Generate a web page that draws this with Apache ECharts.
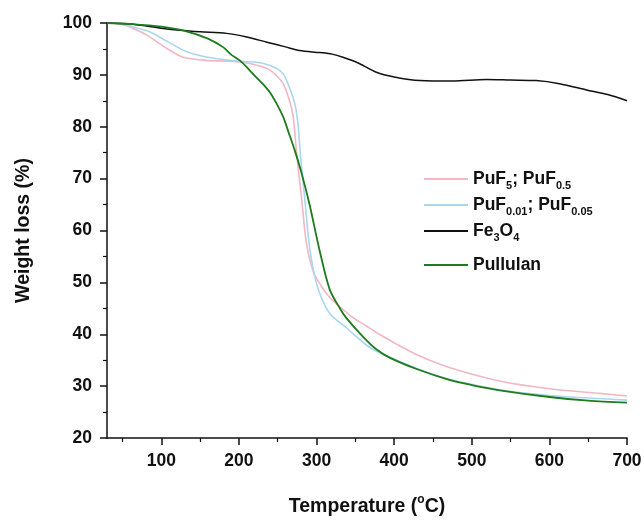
<!DOCTYPE html>
<html>
<head>
<meta charset="utf-8">
<script src="https://cdn.jsdelivr.net/npm/echarts@6/dist/echarts.min.js"></script>
<style>html,body{margin:0;padding:0;background:#fff}#c{width:644px;height:520px}</style>
</head>
<body>
<div id="c"></div>
<script>
// ---- data ----
var seriesNames = ['PuF5; PuF0.5', 'PuF0.01; PuF0.05', 'Fe3O4', 'Pullulan'];

var pinkT = [30, 50, 64, 80, 107, 128, 158, 193, 214, 231, 240, 250, 257, 265, 270, 274, 281, 287, 296, 306, 317, 330, 347, 364, 381, 403, 430, 471, 536, 600, 665, 700];
var pinkW = [100, 99.7, 98.9, 97.8, 95.1, 93.4, 92.8, 92.6, 92.2, 91.5, 90.9, 89.6, 88.3, 85.1, 81.9, 75.4, 65.8, 57.5, 52, 49.3, 47.1, 45.3, 43.2, 41.6, 40.0, 38.1, 36.0, 33.6, 31.0, 29.5, 28.6, 28.1];

var blueT = [30, 50, 64, 85, 107, 132, 160, 201, 225, 240, 250, 257, 265, 272, 276, 279, 285, 290, 296, 304, 317, 338, 368, 394, 429, 471, 536, 600, 665, 700];
var blueW = [100, 99.8, 99.2, 98.3, 96.5, 94.5, 93.4, 92.6, 92.4, 91.8, 91.1, 90.2, 87.6, 84.4, 80.6, 75.0, 65.8, 58, 52.3, 47.9, 44.0, 41.3, 37.5, 35.6, 33.4, 31.3, 29.3, 28.2, 27.6, 27.3];

var blackT = [30, 60, 100, 124, 150, 184, 210, 236, 260, 278, 304, 320, 334, 355, 377, 400, 433, 475, 519, 550, 583, 613, 648, 675, 700];
var blackW = [100, 99.8, 99.0, 98.6, 98.3, 98.0, 97.3, 96.3, 95.4, 94.7, 94.3, 94.0, 93.4, 92.2, 90.5, 89.6, 88.9, 88.8, 89.1, 89.0, 88.9, 88.3, 87.1, 86.2, 85.0];

var greenT = [30, 60, 100, 130, 160, 180, 190, 201, 210, 218, 231, 240, 248, 257, 264, 272, 281, 291, 304, 317, 330, 338, 360, 377, 394, 429, 471, 500, 536, 600, 650, 700];
var greenW = [100, 99.8, 99.3, 98.5, 97.0, 95.3, 93.9, 92.8, 91.5, 90.2, 88.2, 86.6, 84.6, 81.9, 78.9, 75.4, 70.9, 65.0, 56.1, 48.6, 45.0, 43.2, 39.5, 37.1, 35.5, 33.3, 31.2, 30.2, 29.2, 27.9, 27.2, 26.8];

var xMajorTicks = [100, 200, 300, 400, 500, 600, 700];
var xMinorTicks = [50, 150, 250, 350, 450, 550, 650];

// ---- chart ----
function pairs(t, w) { return t.map(function (v, i) { return [v, w[i]]; }); }
var FONT = '"Liberation Sans", Arial, sans-serif';
var colors = ['#f3b6c3', '#a9d7ef', '#111111', '#1e7b1e'];
var widths = [1.6, 1.6, 1.5, 1.8];
var dataSets = [pairs(pinkT, pinkW), pairs(blueT, blueW), pairs(blackT, blackW), pairs(greenT, greenW)];
var legendLabels = {
  'PuF5; PuF0.5': 'PuF{sub|5}; PuF{sub|0.5}',
  'PuF0.01; PuF0.05': 'PuF{sub|0.01}; PuF{sub|0.05}',
  'Fe3O4': 'Fe{sub|3}O{sub|4}',
  'Pullulan': 'Pullulan'
};
var legendText = {
  fontFamily: FONT, fontSize: 17.5, fontWeight: 'bold', color: '#111',
  rich: {sub: {fontFamily: FONT, fontSize: 11, fontWeight: 'bold', color: '#111', padding: [13, 0, 0, 0]}}
};
function legendBox(names, top) {
  return {
    orient: 'vertical', left: 419, top: top, itemWidth: 44, itemHeight: 2, itemGap: 5,
    icon: 'rect', data: names,
    formatter: function (n) { return legendLabels[n]; },
    textStyle: legendText
  };
}

var chart = echarts.init(document.getElementById('c'), null, {renderer: 'canvas'});
var option = {
  backgroundColor: '#fff',
  animation: false,
  textStyle: {fontFamily: FONT},
  grid: {left: 107, right: 17, top: 23, bottom: 82, containLabel: false, outerBoundsMode: 'none'},
  legend: [legendBox(seriesNames.slice(0, 3), 165), legendBox(seriesNames.slice(3), 251)],
  xAxis: [{
    type: 'value', min: 30, max: 700, position: 'bottom',
    name: 'Temperature ({sup|o}C)', nameLocation: 'middle', nameGap: 56,
    nameTextStyle: {fontFamily: FONT, fontSize: 19.5, fontWeight: 'bold', color: '#111',
      rich: {sup: {fontFamily: FONT, fontSize: 12, fontWeight: 'bold', color: '#111', padding: [0, 0, 13, 0]}}},
    axisLine: {onZero: false, lineStyle: {color: '#111', width: 1.5}},
    axisTick: {customValues: xMajorTicks, length: 7, lineStyle: {color: '#111', width: 1.5}},
    axisLabel: {customValues: xMajorTicks, margin: 14, fontFamily: FONT, fontSize: 17.5, fontWeight: 'bold', color: '#111'},
    splitLine: {show: false}
  }, {
    type: 'value', min: 30, max: 700, position: 'bottom',
    axisLine: {show: false, onZero: false},
    axisTick: {customValues: xMinorTicks, length: 4, lineStyle: {color: '#111', width: 1.2}},
    axisLabel: {show: false},
    splitLine: {show: false}
  }],
  yAxis: {
    type: 'value', min: 20, max: 100, interval: 10,
    name: 'Weight loss (%)', nameLocation: 'middle', nameGap: 73, nameRotate: 90,
    nameTextStyle: {fontFamily: FONT, fontSize: 19.5, fontWeight: 'bold', color: '#111'},
    axisLine: {show: true, onZero: false, lineStyle: {color: '#111', width: 1.5}},
    axisTick: {show: true, length: 7, lineStyle: {color: '#111', width: 1.5}},
    minorTick: {show: true, splitNumber: 2, length: 4, lineStyle: {color: '#111', width: 1.2}},
    axisLabel: {margin: 15, fontFamily: FONT, fontSize: 17.5, fontWeight: 'bold', color: '#111'},
    splitLine: {show: false}
  },
  series: seriesNames.map(function (n, i) {
    return {
      name: n, type: 'line', xAxisIndex: 0, data: dataSets[i],
      showSymbol: false, symbol: 'none', smooth: 0.3,
      lineStyle: {color: colors[i], width: widths[i]}, itemStyle: {color: colors[i]},
      z: i === 3 ? 5 : 3
    };
  })
};
chart.setOption(option);
</script>
</body>
</html>
